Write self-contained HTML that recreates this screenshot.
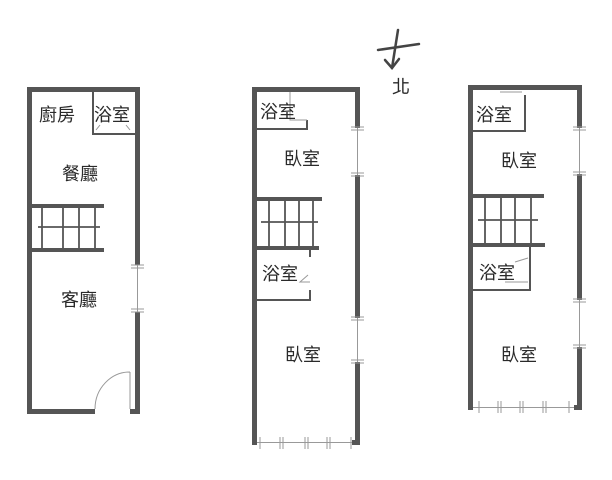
<!DOCTYPE html>
<html><head><meta charset="utf-8"><style>
html,body{margin:0;padding:0;background:#fff;}
svg{display:block}
text{font-family:"Liberation Sans","Noto Sans CJK TC",sans-serif;font-size:18px;fill:#2a2a2a;}
</style></head><body>
<svg width="612" height="480" viewBox="0 0 612 480" xmlns="http://www.w3.org/2000/svg">
<g fill="#555">
<rect x="27" y="87" width="5" height="327"/>
<rect x="27" y="87" width="113" height="5"/>
<rect x="135" y="87" width="5" height="178"/>
<rect x="135" y="312" width="5" height="102"/>
<rect x="27" y="409" width="68" height="5"/>
<rect x="130" y="409" width="10" height="5"/>
<rect x="32" y="204" width="72" height="4"/>
<rect x="32" y="248" width="72" height="4"/>
<rect x="252" y="87" width="5" height="358"/>
<rect x="252" y="87" width="108" height="5"/>
<rect x="355" y="87" width="5" height="41"/>
<rect x="355" y="175" width="5" height="143"/>
<rect x="355" y="362" width="5" height="83"/>
<rect x="252" y="440" width="5" height="5"/>
<rect x="352" y="440" width="8" height="5"/>
<rect x="257" y="197" width="65" height="4"/>
<rect x="257" y="246" width="62" height="4"/>
<rect x="468" y="85" width="5" height="325"/>
<rect x="468" y="85" width="114" height="5"/>
<rect x="577" y="85" width="5" height="43"/>
<rect x="577" y="174" width="5" height="126"/>
<rect x="577" y="347" width="5" height="63"/>
<rect x="574" y="405" width="8" height="5"/>
<rect x="473" y="194" width="71" height="4"/>
<rect x="473" y="243" width="72" height="4"/>
</g>
<g stroke="#555" fill="none" stroke-width="2">
<path d="M93 92 V134 H135"/>
<path d="M42 208 V248 M63 208 V248 M79 208 V248 M95 208 V248 M38 227 H100" stroke-width="1.8"/>
<path d="M257 129 H307 V120"/>
<path d="M269 201 V246 M285 201 V246 M299 201 V246 M313 201 V246 M261 222 H318" stroke-width="1.8"/>
<path d="M257 300 H310 V290"/>
<path d="M310 250 V257"/>
<path d="M473 131 H525 V95"/>
<path d="M485 198 V243 M501 198 V243 M515 198 V243 M531 198 V243 M478 220 H538" stroke-width="1.8"/>
<path d="M473 290 H530 V247"/>
</g>
<g stroke="#999" fill="none" stroke-width="1">
<path d="M137.5 265 V312 M131 265 H144 M131 268 H144 M131 309 H144 M131 312 H144"/>
<path d="M357.5 128 V175 M351 127 H364 M351 130 H364 M351 173 H364 M351 176 H364"/>
<path d="M357.5 318 V362 M351 317 H364 M351 320 H364 M351 360 H364 M351 363 H364"/>
<path d="M579.5 128 V174 M573 127 H586 M573 130 H586 M573 172 H586 M573 175 H586"/>
<path d="M579.5 300 V347 M573 299 H586 M573 302 H586 M573 345 H586 M573 348 H586"/>
<path d="M257 442.5 H352 M260 437 V449 M280 437 V449 M283 437 V449 M305 437 V449 M308 437 V449 M327 437 V449 M330 437 V449 M351 437 V449"/>
<path d="M473 407.5 H574 M479 401 V413 M498 401 V413 M501 401 V413 M520 401 V413 M523 401 V413 M543 401 V413 M546 401 V413 M569 401 V413"/>
<path d="M130 372 V409 M95 409 A35 37 0 0 1 130 372"/>
<path d="M96 130 L100 125 M130 130 L126 125 M290 92 V120 H307 M308 275 L300 282 H310 M500 92 H522 M515 262 L528 258 M505 282 H528"/>
</g>
<g stroke="#444" stroke-width="2.5" fill="none" stroke-linecap="round">
<path d="M398 30 L392 68"/>
<path d="M378 50 L419 44"/>
<path d="M385 60 L392 68 L399 59"/>
</g>
<text x="392" y="93">北</text>
<text x="39" y="121">廚房</text>
<text x="94" y="121">浴室</text>
<text x="62" y="180">餐廳</text>
<text x="61" y="306">客廳</text>
<text x="260" y="118">浴室</text>
<text x="284" y="165">臥室</text>
<text x="262" y="280">浴室</text>
<text x="285" y="361">臥室</text>
<text x="476" y="121">浴室</text>
<text x="501" y="167">臥室</text>
<text x="479" y="279">浴室</text>
<text x="501" y="361">臥室</text>
</svg>
</body></html>
